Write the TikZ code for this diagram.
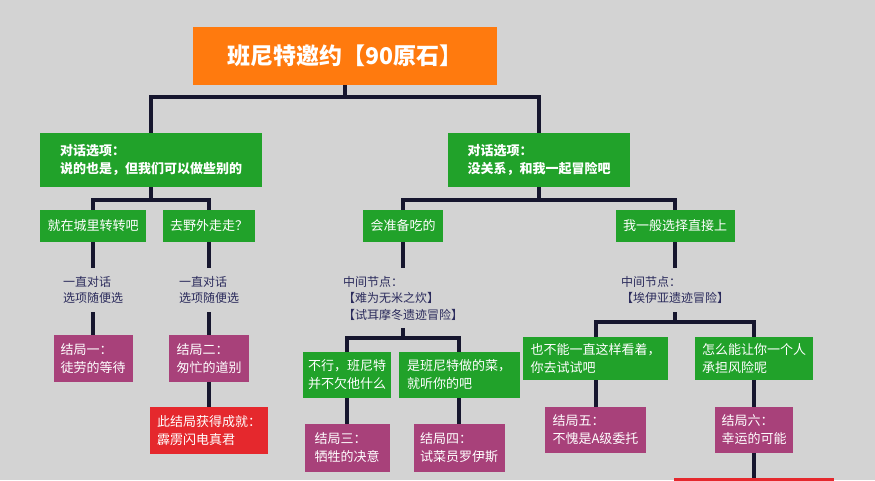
\documentclass[tikz,border=0pt]{standalone}
\usepackage{fontspec}
\setmainfont{Noto Sans CJK SC}
\definecolor{bggray}{HTML}{D3D3D3}
\definecolor{orangebox}{HTML}{FF7A0E}
\definecolor{greenbox}{HTML}{21A22A}
\definecolor{plumbox}{HTML}{A8417A}
\definecolor{redbox}{HTML}{E5282D}
\definecolor{linenavy}{HTML}{16162E}
\definecolor{notenavy}{HTML}{2B2B5C}
\tikzset{
  link/.style = {draw=linenavy, line width=4pt},
  head/.style = {fill=orangebox, text=white, inner sep=0pt, font=\fontsize{23}{28}\selectfont\bfseries},
  talk/.style = {fill=greenbox, text=white, align=left, inner sep=0pt, font=\fontsize{13}{18}\selectfont\bfseries},
  pick/.style = {fill=greenbox, text=white, align=left, inner sep=0pt, font=\fontsize{13}{18}\selectfont},
  ending/.style = {fill=plumbox, text=white, align=left, inner sep=0pt, font=\fontsize{13}{18}\selectfont},
  badge/.style = {fill=redbox, text=white, align=left, inner sep=0pt, font=\fontsize{13}{18}\selectfont},
  note/.style = {text=notenavy, align=left, inner sep=0pt, font=\fontsize{12}{16.5}\selectfont}
}

\begin{document}
\begin{tikzpicture}[x=1pt, y=-1pt]
\path[use as bounding box, fill=bggray] (0,0) rectangle (875,480);
% nodes
\node[head, minimum width=304pt, minimum height=58pt] (title) at (345,56) {班尼特邀约【90原石】};
\node[talk, minimum width=222pt, minimum height=54pt] (talkL) at (151,160) {对话选项：\\说的也是，但我们可以做些别的};
\node[talk, minimum width=182pt, minimum height=54pt] (talkR) at (539,160) {对话选项：\\没关系，和我一起冒险吧};
\node[pick, minimum width=106pt, minimum height=32pt] (city) at (93,226) {就在城里转转吧};
\node[pick, minimum width=92pt, minimum height=32pt] (wild) at (209,226) {去野外走走？};
\node[pick, minimum width=80pt, minimum height=32pt] (food) at (403,226) {会准备吃的};
\node[pick, minimum width=119pt, minimum height=32pt] (rush) at (675,226) {我一般选择直接上};
\node[note, minimum height=44pt] (noteA) at (93,290) {一直对话\\选项随便选};
\node[note, minimum height=44pt] (noteB) at (209,290) {一直对话\\选项随便选};
\node[note, minimum height=60pt] (noteC) at (403,298) {中间节点：\\【难为无米之炊】\\【试耳摩冬遗迹冒险】};
\node[note, minimum height=44pt] (noteD) at (675,290) {中间节点：\\【埃伊亚遗迹冒险】};
\node[ending, minimum width=79pt, minimum height=47pt] (endA) at (93,358.5) {结局一：\\徒劳的等待};
\node[ending, minimum width=80pt, minimum height=47pt] (endB) at (209,358.5) {结局二：\\匆忙的道别};
\node[badge, minimum width=118pt, minimum height=47pt] (badgeB) at (209,430.5) {此结局获得成就：\\霹雳闪电真君};
\node[pick, minimum width=88pt, minimum height=46pt] (refuse) at (347,375) {不行，班尼特\\并不欠他什么};
\node[pick, minimum width=121pt, minimum height=46pt] (agree) at (459,375) {是班尼特做的菜，\\就听你的吧};
\node[ending, minimum width=85pt, minimum height=48pt] (endC) at (347,448) {结局三：\\牺牲的决意};
\node[ending, minimum width=91pt, minimum height=48pt] (endD) at (459,448) {结局四：\\试菜员罗伊斯};
\node[pick, minimum width=145pt, minimum height=43pt] (watch) at (595.5,358.5) {也不能一直这样看着，\\你去试试吧};
\node[pick, minimum width=118pt, minimum height=43pt] (share) at (754,358.5) {怎么能让你一个人\\承担风险呢};
\node[ending, minimum width=101pt, minimum height=46pt] (endE) at (595.5,430) {结局五：\\不愧是A级委托};
\node[ending, minimum width=78pt, minimum height=46pt] (endF) at (754,430) {结局六：\\幸运的可能};
\node[badge, minimum width=160pt, minimum height=50pt] (badgeF) at (754,503) {};
% edges
\draw[link] (title.south) -- ++(0,12) -| (talkL.north);
\draw[link] (title.south) -- ++(0,12) -| (talkR.north);
\draw[link] (talkL.south) -- ++(0,13) -| (city.north);
\draw[link] (talkL.south) -- ++(0,13) -| (wild.north);
\draw[link] (talkR.south) -- ++(0,13) -| (food.north);
\draw[link] (talkR.south) -- ++(0,13) -| (rush.north);
\draw[link] (city) edge (noteA) (noteA) edge (endA);
\draw[link] (wild) edge (noteB) (noteB) edge (endB) (endB) edge (badgeB);
\draw[link] (food) -- (noteC);
\draw[link] (noteC.south) -- ++(0,10) -| (refuse.north);
\draw[link] (noteC.south) -- ++(0,10) -| (agree.north);
\draw[link] (refuse) edge (endC) (agree) edge (endD);
\draw[link] (rush) -- (noteD);
\draw[link] (noteD.south) -- ++(0,10) -| (watch.north);
\draw[link] (noteD.south) -- ++(0,10) -| (share.north);
\draw[link] (watch) edge (endE) (share) edge (endF) (endF) edge (badgeF);

\end{tikzpicture}
\end{document}
